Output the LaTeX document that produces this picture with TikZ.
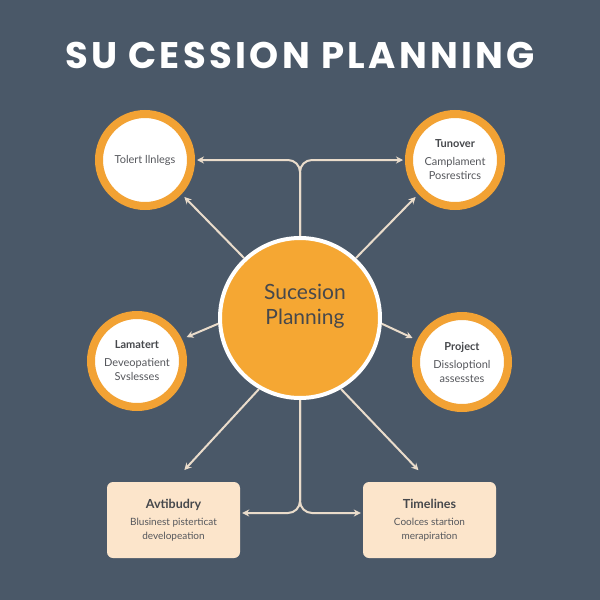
\documentclass[tikz,border=0pt]{standalone}
\usepackage{fontspec}
\setmainfont{Lato}
\newfontfamily\titlefont[LetterSpace=9]{Poppins}
\usetikzlibrary{arrows.meta,calc}
\definecolor{bgc}{RGB}{74,88,104}
\definecolor{orng}{RGB}{245,167,51}
\definecolor{ring}{RGB}{242,162,52}
\definecolor{peach}{RGB}{252,229,203}
\definecolor{lnk}{RGB}{234,220,203}
\definecolor{txtd}{RGB}{70,72,76}
\definecolor{txtb}{RGB}{85,87,92}
\tikzset{
  hub/.style={circle,fill=orng,draw=white,line width=4pt,minimum size=160pt,inner sep=0pt},
  ringnode/.style={circle,fill=white,draw=ring,line width=8pt,minimum size=92pt,inner sep=0pt,align=center,text=txtb,font=\fontsize{11}{14}\selectfont},
  boxnode/.style={rectangle,rounded corners=6pt,fill=peach,minimum width=133pt,minimum height=76pt,inner sep=0pt,align=center,text=txtb,font=\fontsize{10}{13.5}\selectfont},
  arr/.style={draw=lnk,line width=2pt,-{Stealth[length=7pt,width=7pt]}}
}
\newcommand{\cttl}[1]{{\fontsize{11}{13}\selectfont\bfseries\color{txtd}#1}}
\newcommand{\bttl}[1]{{\fontsize{12.5}{15}\selectfont\bfseries\color{txtd}#1}}
\begin{document}
\begin{tikzpicture}[x=1pt,y=1pt]
\fill[bgc] (0,0) rectangle (600,-600);
\useasboundingbox (0,0) rectangle (600,-600);
\node[text=white,font=\titlefont\bfseries\fontsize{37}{40}\selectfont] (title) at (300,-55) {SU CESSION PLANNING};
% nodes
\node[ringnode] (tl) at (145,-160) {Tolert llnlegs};
\node[ringnode] (tr) at (455,-160) {\cttl{Tunover}\\[4pt]Camplament\\Posrestircs};
\node[ringnode] (ml) at (137,-361) {\cttl{Lamatert}\\[4pt]Deveopatient\\Svslesses};
\node[ringnode] (mr) at (462,-362) {\cttl{Project}\\[4pt]Dissloptionl\\assesstes};
\node[boxnode] (bl) at (173.5,-520) {\bttl{Avtibudry}\\[4pt]Blusinest pisterticat\\developeation};
\node[boxnode] (br) at (429.5,-520) {\bttl{Timelines}\\[4pt]Coolces startion\\merapiration};
% connectors (behind hub)
\draw[arr,rounded corners=12pt,shorten >=2pt] (300,-300) |- (tl.east);
\draw[arr,rounded corners=12pt,shorten >=2pt] (300,-300) |- (tr.west);
\draw[arr,rounded corners=12pt,shorten >=2pt] (300,-330) |- ($(bl.east)+(0,7)$);
\draw[arr,rounded corners=12pt,shorten >=2pt] (300,-330) |- ($(br.west)+(0,7)$);
\node[hub] (c) at (300,-318) {};
\node[text=txtd,align=center,font=\fontsize{21}{25}\selectfont] (ct) at (305,-306) {Sucesion\\Planning};
\draw[arr,shorten >=4pt] (c.133) -- (tl.-43);
\draw[arr,shorten >=4pt] (c.47) -- (tr.-137);
\draw[arr,shorten >=5pt] (c.184) -- (ml.26);
\draw[arr,shorten >=5pt] (c.-4) -- (mr.154);
\draw[arr,shorten >=16pt] (c.240) -- (bl.north);
\draw[arr,shorten >=16pt] (c.-60) -- (br.north);
\end{tikzpicture}
\end{document}
